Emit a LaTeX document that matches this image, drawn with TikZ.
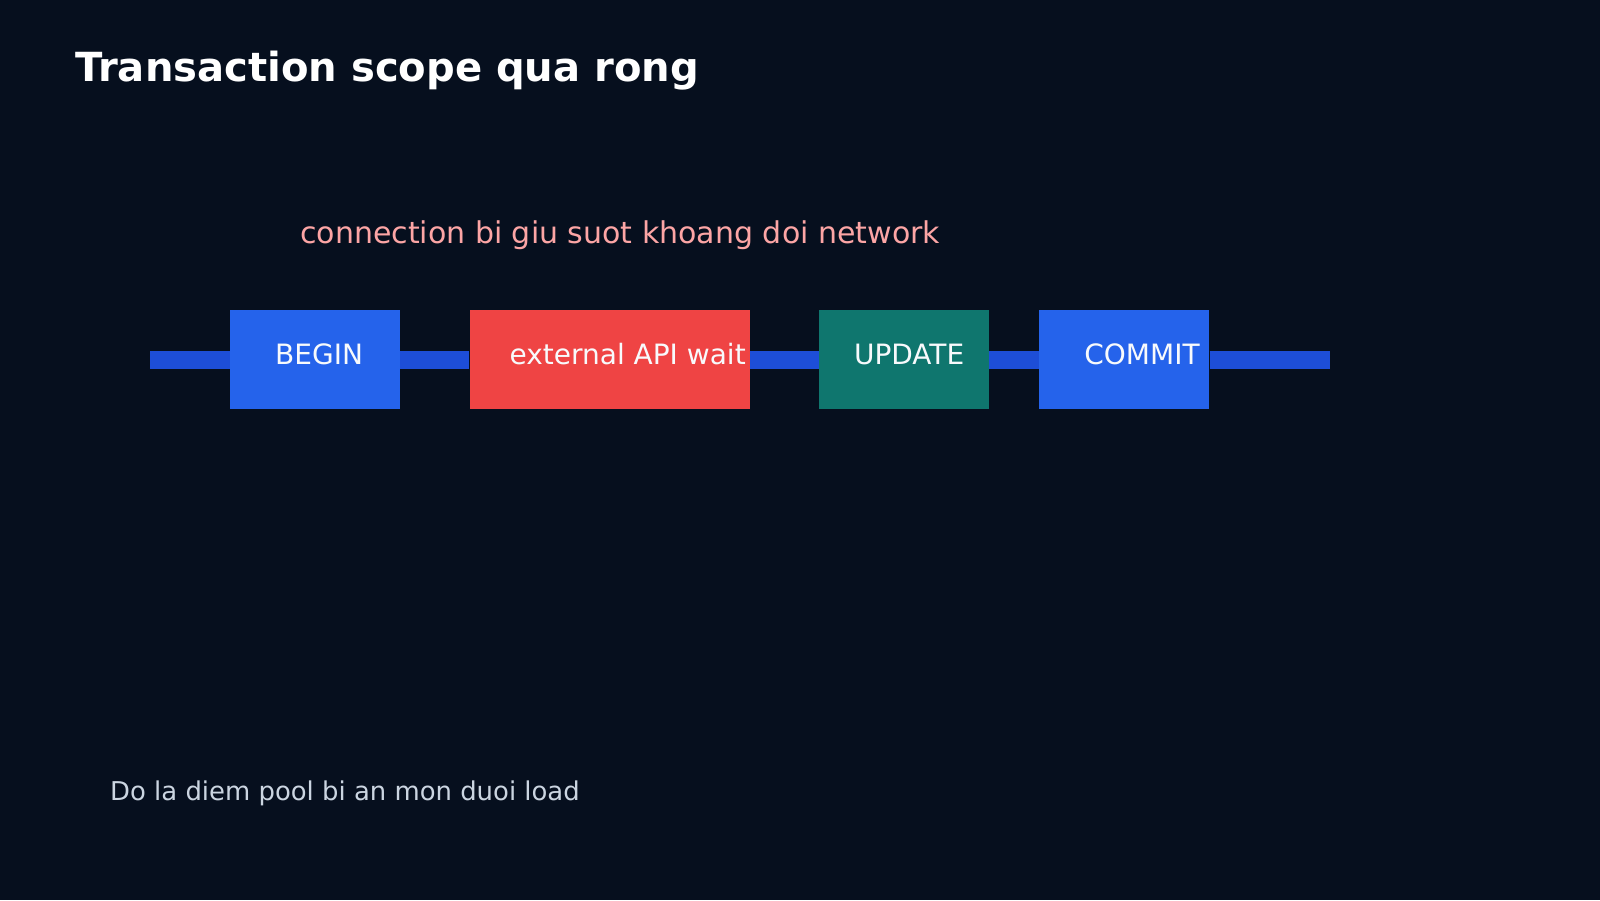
\documentclass[tikz,border=0pt]{standalone}
\usepackage{fontspec}
\setmainfont{DejaVu Sans}
\usetikzlibrary{positioning}
\definecolor{pagebg}{HTML}{060F1E}
\definecolor{txblue}{HTML}{2563EB}
\definecolor{barblue}{HTML}{1D4ED8}
\definecolor{waitred}{HTML}{EF4444}
\definecolor{updteal}{HTML}{0F766E}
\definecolor{notepink}{HTML}{FCA5A5}
\definecolor{footgray}{HTML}{CBD5E1}
\definecolor{labelwhite}{HTML}{F8FAFC}
\tikzset{
  opbox/.style={
    draw=none, minimum width=170pt, minimum height=99pt, inner sep=0pt
  },
  oplabel/.style={
    anchor=base west, inner sep=0pt, text=labelwhite,
    font=\fontsize{28}{34}\selectfont
  },
  plaintext/.style={anchor=base west, inner sep=0pt},
  bar/.style={line width=18pt, color=barblue}
}

\begin{document}
\begin{tikzpicture}[x=1pt, y=-1pt, node distance=69pt]
  \fill[pagebg] (0,0) rectangle (1600,900);

  \node[plaintext, text=white, font=\fontsize{40.1}{48}\selectfont\bfseries] (title) at (75,81) {Transaction scope qua rong};
  \node[plaintext, text=notepink, font=\fontsize{30}{36}\selectfont] (note) at (300,243) {connection bi giu suot khoang doi network};

  \node[opbox, fill=txblue, anchor=west] (txbegin) at (230,359.5) {};
  \node[opbox, fill=waitred, minimum width=280pt, right=of txbegin] (apiwait) {};
  \node[opbox, fill=updteal, right=of apiwait] (update) {};
  \node[opbox, fill=txblue, right=50pt of update] (commit) {};

  \coordinate (barL) at (150,359.5);
  \coordinate (barR) at (1330,359.5);
  \draw[bar] (barL) -- (txbegin);
  \draw[bar] (txbegin) -- (apiwait);
  \draw[bar] (apiwait) -- (update);
  \draw[bar] (update) -- (commit);
  \draw[bar] (commit) -- (barR);

  \node[oplabel] (beginlbl) at ([xshift=45pt, yshift=-5pt]txbegin.west) {BEGIN};
  \node[oplabel] (waitlbl) at ([xshift=40pt, yshift=-5pt]apiwait.west) {external API wait};
  \node[oplabel] (updlbl) at ([xshift=35pt, yshift=-5pt]update.west) {UPDATE};
  \node[oplabel] (commitlbl) at ([xshift=45pt, yshift=-5pt]commit.west) {COMMIT};

  \node[plaintext, text=footgray, font=\fontsize{25.9}{31}\selectfont] (footnote) at (110,800) {Do la diem pool bi an mon duoi load};
\end{tikzpicture}
\end{document}
